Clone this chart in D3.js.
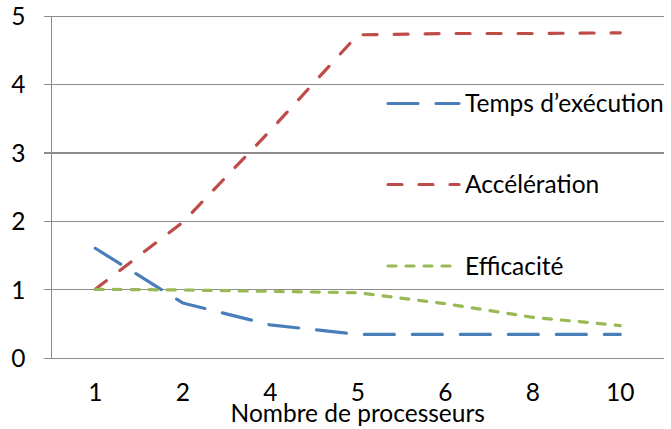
<!DOCTYPE html>
<html>
<head>
<meta charset="utf-8">
<script src="https://cdn.jsdelivr.net/npm/d3@7"></script>
<style>
  html, body { margin: 0; padding: 0; background: #fff; }
  svg { display: block; }
  text { font-family: Lato, "Open Sans", sans-serif; fill: #000; }
</style>
</head>
<body>
<svg id="chart" width="671" height="429"></svg>
<script>
// Number of processors (categorical axis)
const processeurs = ["1", "2", "4", "5", "6", "8", "10"];
// Series values
const tempsExecution = [1.6, 0.8, 0.48, 0.34, 0.34, 0.34, 0.34];
const acceleration = [1, 1.98, 3.32, 4.72, 4.74, 4.74, 4.75];
const efficacite = [1, 0.99, 0.97, 0.95, 0.79, 0.59, 0.47];
const yTicks = [0, 1, 2, 3, 4, 5];
const seriesNames = ["Temps d\u2019exécution", "Accélération", "Efficacité"];

const series = [
  { name: seriesNames[0], values: tempsExecution, color: "#4A7EBB", dash: "30 18" },
  { name: seriesNames[1], values: acceleration, color: "#BE4B48", dash: "14 17" },
  { name: seriesNames[2], values: efficacite, color: "#98B954", dash: "8 10" }
];

const svg = d3.select("#chart");
const plot = { left: 51.5, right: 664, top: 15.7, bottom: 357.7 };
const fontSize = 24.5;

const x = d3.scaleBand().domain(processeurs).range([plot.left, plot.right]).padding(0);
const y = d3.scaleLinear().domain([0, 5]).range([plot.bottom, plot.top]);

// Horizontal gridlines with short tick marks on the left of the value axis
const yAxis = d3.axisLeft(y)
  .tickValues(yTicks)
  .tickFormat(d3.format("d"))
  .tickSize(-(plot.right - plot.left))
  .tickPadding(0);

const gy = svg.append("g")
  .attr("transform", `translate(${plot.left},0)`)
  .call(yAxis);
gy.select(".domain").remove();
gy.selectAll(".tick line")
  .attr("x1", -8)
  .attr("stroke", "#8c8c8c")
  .attr("stroke-width", 1.3)
  .attr("shape-rendering", "crispEdges");
gy.selectAll(".tick text")
  .attr("x", 25.5 - plot.left)
  .attr("dy", "0.36em")
  .style("font-size", fontSize + "px")
  .style("font-family", "Lato, 'Open Sans', sans-serif")
  .attr("fill", "#000");

// Vertical value axis line
svg.append("line")
  .attr("x1", plot.left).attr("x2", plot.left)
  .attr("y1", plot.top).attr("y2", plot.bottom)
  .attr("stroke", "#8c8c8c")
  .attr("stroke-width", 1.3)
  .attr("shape-rendering", "crispEdges");

// Category axis labels (no tick marks)
const xAxis = d3.axisBottom(x).tickSize(0).tickPadding(0);
const gx = svg.append("g")
  .attr("transform", `translate(0,${plot.bottom})`)
  .call(xAxis);
gx.select(".domain").remove();
gx.selectAll(".tick text")
  .attr("y", 43)
  .attr("dy", null)
  .style("font-size", fontSize + "px")
  .style("font-family", "Lato, 'Open Sans', sans-serif")
  .attr("fill", "#000");

// Axis title
svg.append("text")
  .attr("x", (plot.left + plot.right) / 2)
  .attr("y", 422)
  .attr("text-anchor", "middle")
  .style("font-size", fontSize + "px")
  .text("Nombre de processeurs");

// Series lines
const line = d3.line()
  .x((d, i) => x(processeurs[i]) + x.bandwidth() / 2)
  .y(d => y(d));

svg.append("g").selectAll("path")
  .data(series)
  .join("path")
  .attr("d", s => line(s.values))
  .attr("fill", "none")
  .attr("stroke", s => s.color)
  .attr("stroke-width", 3.2)
  .attr("stroke-linecap", "round")
  .attr("stroke-linejoin", "round")
  .attr("stroke-dasharray", s => s.dash);

// Legend on the right, inside the plot area
const legendY = [103.5, 184.5, 266];
const legend = svg.append("g").selectAll("g")
  .data(series)
  .join("g")
  .attr("transform", (s, i) => `translate(388,${legendY[i]})`);

legend.append("line")
  .attr("x1", 0).attr("x2", 71)
  .attr("y1", 0).attr("y2", 0)
  .attr("stroke", s => s.color)
  .attr("stroke-width", 3.2)
  .attr("stroke-linecap", "round")
  .attr("stroke-dasharray", s => s.dash);

legend.append("text")
  .attr("x", 77)
  .attr("y", 0)
  .attr("dy", "0.36em")
  .style("font-size", fontSize + "px")
  .text(s => s.name);
</script>
</body>
</html>
